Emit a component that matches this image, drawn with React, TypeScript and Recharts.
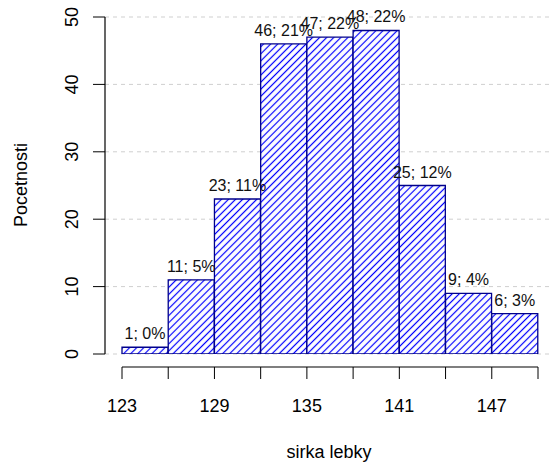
import React from 'react';
import {
  BarChart,
  Bar,
  XAxis,
  YAxis,
  CartesianGrid,
  LabelList,
  ReferenceLine,
} from 'recharts';

// histogram bins (width 3) and their counts
const binStarts = [123, 126, 129, 132, 135, 138, 141, 144, 147];
const counts = [1, 11, 23, 46, 47, 48, 25, 9, 6];
const xTicks = [123, 126, 129, 132, 135, 138, 141, 144, 147, 150];
const xLabels = [123, 129, 135, 141, 147];
const yTicks = [0, 10, 20, 30, 40, 50];

const total = counts.reduce((a, b) => a + b, 0);

const data = binStarts.map((start, i) => ({
  bin: `${start}-${start + 3}`,
  start,
  count: counts[i],
  pct: Math.round((counts[i] / total) * 100),
}));

// where R puts the axes, in data units (just outside the plotted range)
const Y_AXIS_AT = 123 - (17 * 27) / 416;
const X_AXIS_AT = -(13 * 50) / 337;

const FONT = '"Liberation Sans", Arial, sans-serif';

const YTick = (props: any) => {
  const { x, y, payload } = props;
  return (
    <text
      transform={`translate(${x},${y}) rotate(-90)`}
      textAnchor="middle"
      fontSize={18}
      fontFamily={FONT}
      fill="#000"
    >
      {payload.value}
    </text>
  );
};

const BarLabel = (props: any) => {
  const { x, y, width, index } = props;
  const d = data[index];
  return (
    <text
      x={x + width / 2}
      y={y - 8}
      textAnchor="middle"
      fontSize={16}
      fontFamily={FONT}
      fill="#111"
    >
      {`${d.count}; ${d.pct}%`}
    </text>
  );
};

export default function App() {
  return (
    <div style={{ position: 'absolute', left: 0, top: 0, background: '#fff' }}>
      <BarChart
        width={553}
        height={468}
        data={data}
        margin={{ top: 17, right: 0, left: 0, bottom: 0 }}
        barCategoryGap={0}
        barGap={0}
      >
        <defs>
          <pattern
            id="hatch"
            patternUnits="userSpaceOnUse"
            width="5"
            height="5"
            patternTransform="rotate(45)"
          >
            <rect width="5" height="5" fill="#fff" />
            <line x1="2.5" y1="0" x2="2.5" y2="5" stroke="#0000ff" strokeWidth={1.2} />
          </pattern>
        </defs>
        <CartesianGrid
          vertical={false}
          stroke="#cfcfcf"
          strokeDasharray="4 4"
          yAxisId="y"
          syncWithTicks
        />
        <XAxis
          xAxisId="bins"
          dataKey="bin"
          type="category"
          hide
          height={0}
          padding={{ left: 17, right: 15 }}
        />
        <XAxis
          xAxisId="num"
          dataKey="start"
          type="number"
          domain={[123, 150]}
          allowDataOverflow
          ticks={xTicks}
          interval={0}
          padding={{ left: 17, right: 15 }}
          height={101}
          axisLine={false}
          tickLine={{ stroke: '#000' }}
          tickSize={12}
          tickMargin={20}
          tick={{ fontSize: 18, fontFamily: FONT, fill: '#000' }}
          tickFormatter={(v: number) => (xLabels.includes(v) ? String(v) : '')}
          label={{
            content: (p: any) => {
              const vb = p.viewBox || { x: 105, y: 367, width: 448 };
              return (
                <text
                  x={vb.x + vb.width / 2}
                  y={vb.y + 91}
                  textAnchor="middle"
                  fontSize={18}
                  fontFamily={FONT}
                  fill="#000"
                >
                  sirka lebky
                </text>
              );
            },
          }}
        />
        <YAxis
          yAxisId="y"
          type="number"
          domain={[0, 50]}
          allowDataOverflow
          ticks={yTicks}
          interval={0}
          width={105}
          padding={{ top: 0, bottom: 13 }}
          axisLine={false}
          tickLine={{ stroke: '#000' }}
          tickSize={12}
          tickMargin={15}
          tick={<YTick />}
          label={{
            content: () => (
              <text
                transform="translate(27,185) rotate(-90)"
                textAnchor="middle"
                fontSize={18}
                fontFamily={FONT}
                fill="#000"
              >
                Pocetnosti
              </text>
            ),
          }}
        />
        <Bar
          xAxisId="bins"
          yAxisId="y"
          dataKey="count"
          fill="url(#hatch)"
          stroke="#00008b"
          strokeWidth={1.3}
          isAnimationActive={false}
        >
          <LabelList dataKey="count" content={<BarLabel />} />
        </Bar>
        <ReferenceLine
          xAxisId="num"
          yAxisId="y"
          ifOverflow="visible"
          stroke="#000"
          strokeWidth={1.2}
          segment={[
            { x: Y_AXIS_AT, y: 0 },
            { x: Y_AXIS_AT, y: 50 },
          ]}
        />
        <ReferenceLine
          xAxisId="num"
          yAxisId="y"
          ifOverflow="visible"
          stroke="#000"
          strokeWidth={1.2}
          segment={[
            { x: 123, y: X_AXIS_AT },
            { x: 150, y: X_AXIS_AT },
          ]}
        />
      </BarChart>
    </div>
  );
}
